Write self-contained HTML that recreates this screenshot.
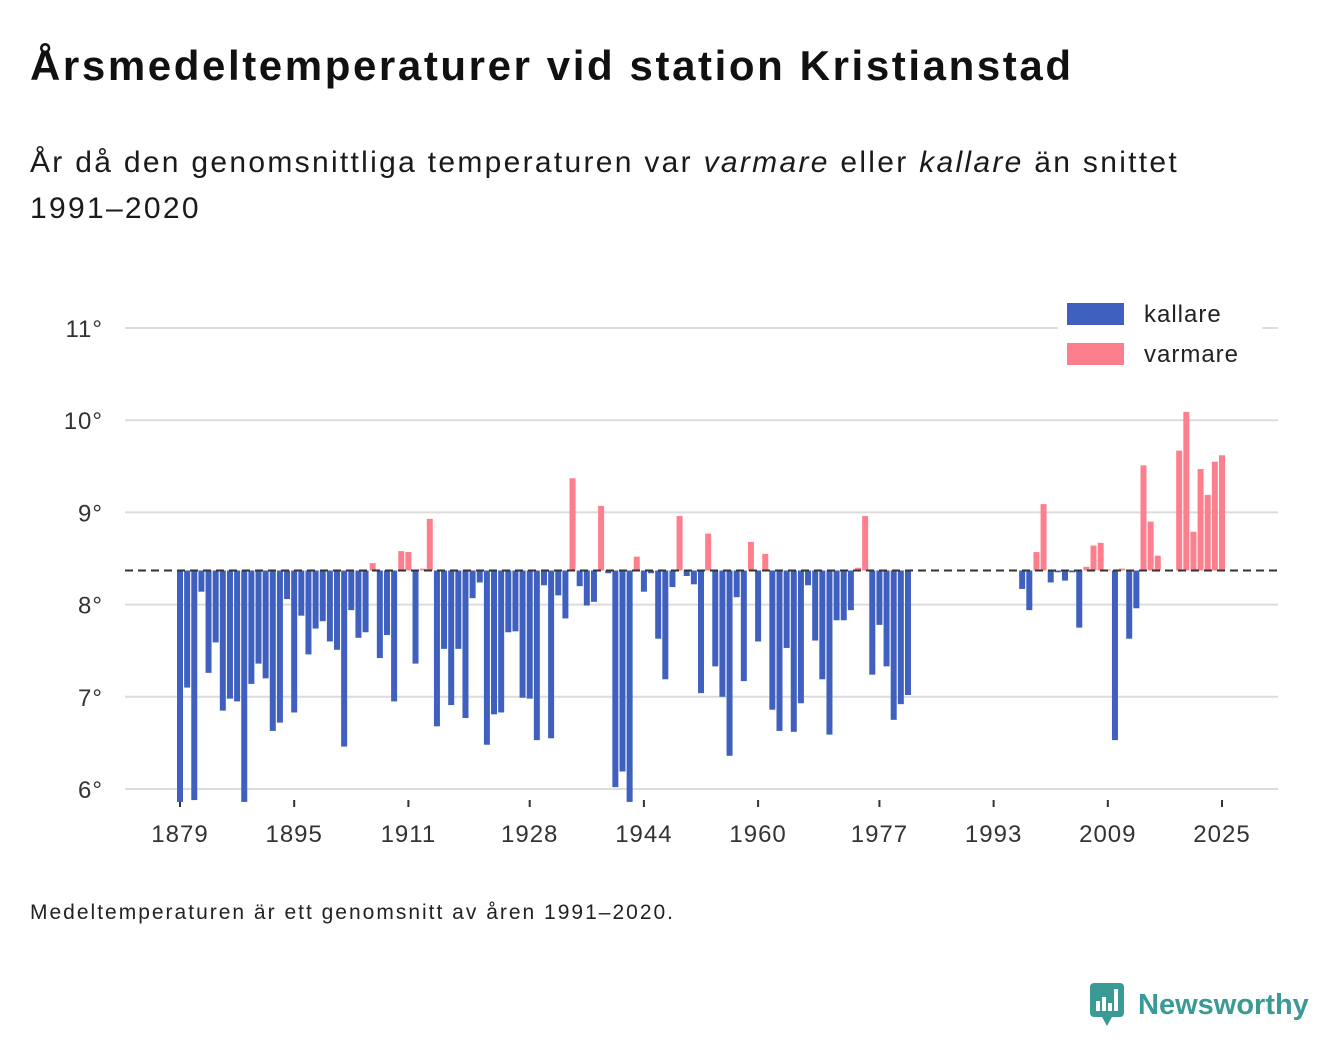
<!DOCTYPE html>
<html><head><meta charset="utf-8"><style>
body{margin:0;background:#fff;width:1340px;height:1056px;overflow:hidden;font-family:"Liberation Sans",sans-serif;color:#111;position:relative}
.t{position:absolute;left:30px;top:42px;font-size:42px;letter-spacing:2.6px;font-weight:bold;margin:0;white-space:nowrap}
.s{position:absolute;left:30px;top:140px;font-size:30px;letter-spacing:2.3px;line-height:46px;width:1290px;color:#1a1a1a}
.f{position:absolute;left:30px;top:901px;font-size:21px;letter-spacing:2px;color:#222;white-space:nowrap}
</style></head><body>
<h1 class="t">Årsmedeltemperaturer vid station Kristianstad</h1>
<div class="s">År då den genomsnittliga temperaturen var <i>varmare</i> eller <i>kallare</i> än snittet<br>1991–2020</div>
<svg id="chart" width="1340" height="1056" style="position:absolute;left:0;top:0" xmlns="http://www.w3.org/2000/svg"></svg>
<div class="f">Medeltemperaturen är ett genomsnitt av åren 1991–2020.</div>
<div style="position:absolute;left:1090px;top:983px;display:flex;align-items:center">
<svg width="36" height="44"><rect x="0" y="0" width="34" height="34" rx="4" fill="#3a9a96"/><path d="M12 34 L17 43 L22 34Z" fill="#3a9a96"/><rect x="6" y="18" width="4" height="10" fill="#fff"/><rect x="12" y="14" width="4" height="14" fill="#fff"/><rect x="18" y="20" width="4" height="8" fill="#fff"/><rect x="24" y="6" width="4" height="22" fill="#fff"/></svg>
<span style="font-size:29px;font-weight:bold;color:#3a9a96;margin-left:12px">Newsworthy</span></div>
<script>
const years=[];for(let y=1879;y<=2025;y++)years.push(y);
const temps=[5.86,7.10,5.88,8.14,7.26,7.59,6.85,6.98,6.95,5.86,7.14,7.36,7.20,6.63,6.72,8.06,6.83,7.88,7.46,7.74,7.82,7.60,7.51,6.46,7.94,7.64,7.70,8.45,7.42,7.67,6.95,8.58,8.57,7.36,8.39,8.93,6.68,7.52,6.91,7.52,6.77,8.07,8.24,6.48,6.81,6.83,7.70,7.71,6.99,6.98,6.53,8.21,6.55,8.10,7.85,9.37,8.20,7.99,8.03,9.07,8.34,6.02,6.19,5.86,8.52,8.14,8.34,7.63,7.19,8.19,8.96,8.31,8.22,7.04,8.77,7.33,7.00,6.36,8.08,7.17,8.68,7.60,8.55,6.86,6.63,7.53,6.62,6.93,8.21,7.61,7.19,6.59,7.83,7.83,7.94,8.40,8.96,7.24,7.78,7.33,6.75,6.92,7.02,
null,null,null,null,null,null,null,null,null,null,null,null,null,null,null,
8.17,7.94,8.57,9.09,8.24,8.35,8.26,8.35,7.75,8.41,8.64,8.67,8.38,6.53,8.39,7.63,7.96,9.51,8.90,8.53,null,null,9.67,10.09,8.79,9.47,9.19,9.55,9.62];
const baseline=8.37;
const yTicks=[6,7,8,9,10,11];
const xTicks=[1879,1895,1911,1928,1944,1960,1977,1993,2009,2025];
const svg=document.getElementById('chart');const NS='http://www.w3.org/2000/svg';
const X=y=>180+(y-1879)*7.137;
const Y=v=>789-(v-6)*92.2;
const yMin=5.85;
function el(t,a,p){const e=document.createElementNS(NS,t);for(const k in a)e.setAttribute(k,a[k]);(p||svg).appendChild(e);return e;}
yTicks.forEach(v=>{
const g=el('line',{x1:125,x2:1278,y1:Y(v),y2:Y(v),stroke:'#dcdcdc','stroke-width':2});


const t=el('text',{x:103,y:Y(v)+9,'text-anchor':'end','font-size':24,'letter-spacing':1,fill:'#333','font-family':'Liberation Sans, sans-serif'});
t.textContent=v+'°';


});
xTicks.forEach(yr=>{
const l=el('line',{x1:X(yr),x2:X(yr),y1:800,y2:807,stroke:'#333','stroke-width':2});


const t=el('text',{x:X(yr),y:842,'text-anchor':'middle','font-size':24,'letter-spacing':1,fill:'#333','font-family':'Liberation Sans, sans-serif'});
t.textContent=yr;


});
years.forEach((yr,i)=>{const v=temps[i];if(v==null)return;
const vv=Math.max(v,yMin);const y0=Y(baseline),y1=Y(vv);
const r=el('rect',{x:X(yr)-3,width:6,y:Math.min(y0,y1),height:Math.max(Math.abs(y1-y0),0.5),fill:v<baseline?'#3f60be':'#fd7f8d'});


});
const bl=el('line',{x1:125,x2:1280,y1:Y(baseline),y2:Y(baseline),stroke:'#333','stroke-width':2,'stroke-dasharray':'8,5'});


const lb=el('rect',{x:1058,y:296,width:204,height:76,fill:'#fff'});


[['kallare','#3f60be',303],['varmare','#fd7f8d',343]].forEach(([n,c,y])=>{
const s=el('rect',{x:1067,y:y,width:57,height:22,fill:c});


const t=el('text',{x:1144,y:y+19,'font-size':24,'letter-spacing':1,fill:'#222','font-family':'Liberation Sans, sans-serif'});
t.textContent=n;


});
</script>
</body></html>
